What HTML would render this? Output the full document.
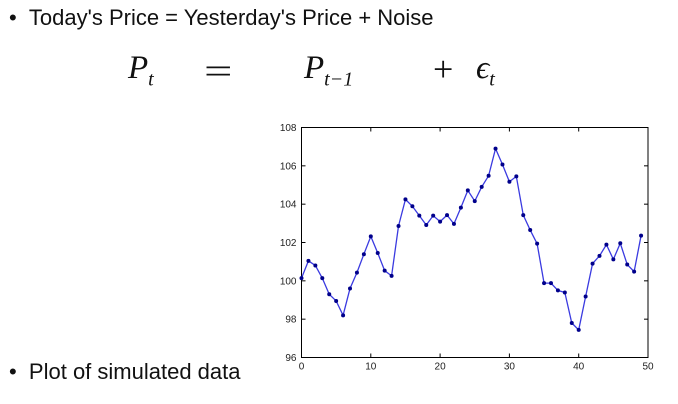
<!DOCTYPE html>
<html><head><meta charset="utf-8"><style>
body{margin:0;width:678px;height:404px;background:#fff;position:relative;overflow:hidden;font-family:"Liberation Sans",sans-serif;color:#111}
.t{position:absolute;white-space:nowrap;font-size:22px}
.eq{position:absolute;font-family:"Liberation Serif",serif;font-size:33px;white-space:nowrap}
.eq i sub{font-size:20px}
</style></head><body>
<div class="t" style="left:9px;top:5px">•&nbsp;&nbsp;Today's Price = Yesterday's Price + Noise</div>
<div class="eq" style="left:128px;top:50px"><i>P<sub>t</sub></i></div>
<div class="eq" style="left:204px;top:50px;font-size:36px;transform:scaleX(1.4);transform-origin:left">=</div>
<div class="eq" style="left:304px;top:50px"><i>P<sub>t−1</sub></i></div>
<div class="eq" style="left:433px;top:48px;font-size:36px">+</div>
<div class="eq" style="left:476px;top:50px"><i>ϵ<sub>t</sub></i></div>
<div class="t" style="left:9px;top:359px">•&nbsp;&nbsp;Plot of simulated data</div>
<svg id="chart" width="678" height="404" style="position:absolute;left:0;top:0"></svg>
<script>
const xTicks=[0,10,20,30,40,50];
const yTicks=[96,98,100,102,104,106,108];
const values=[100.14,101.04,100.8,100.14,99.3,98.95,98.2,99.6,100.43,101.39,102.32,101.45,100.53,100.26,102.86,104.25,103.89,103.4,102.91,103.4,103.09,103.43,102.97,103.82,104.72,104.16,104.9,105.48,106.9,106.07,105.17,105.45,103.43,102.65,101.94,99.88,99.88,99.5,99.39,97.8,97.44,99.18,100.9,101.3,101.89,101.12,101.96,100.85,100.48,102.36];
const L=301.5,R=648,T=127.5,B=357.5;
const sx=v=>L+(v-0)/(50-0)*(R-L);
const sy=v=>B-(v-96)/(108-96)*(B-T);
const svg=document.getElementById('chart');const NS='http://www.w3.org/2000/svg';
function mk(tag,a){const e=document.createElementNS(NS,tag);for(const k in a)e.setAttribute(k,a[k]);svg.appendChild(e);return e;}
const fr=mk('rect',{x:L,y:T,width:R-L,height:B-T,fill:'none',stroke:'#000','stroke-width':1});


xTicks.forEach(t=>{const x=sx(t);
 mk('line',{x1:x,x2:x,y1:B,y2:B-4,stroke:'#000'});mk('line',{x1:x,x2:x,y1:T,y2:T+4,stroke:'#000'});
 const tx=mk('text',{x:x,y:B+12,'font-size':10,'text-anchor':'middle','font-family':'Liberation Sans, sans-serif',fill:'#222'});tx.textContent=t;
 
 });
yTicks.forEach(t=>{const y=sy(t);
 mk('line',{x1:L,x2:L+4,y1:y,y2:y,stroke:'#000'});mk('line',{x1:R,x2:R-4,y1:y,y2:y,stroke:'#000'});
 const tx=mk('text',{x:L-5,y:y+3.5,'font-size':10,'text-anchor':'end','font-family':'Liberation Sans, sans-serif',fill:'#222'});tx.textContent=t;
 
 });
const pts=values.map((v,i)=>sx(i)+','+sy(v)).join(' ');
const ln=mk('polyline',{points:pts,fill:'none',stroke:'#3a3ae0','stroke-width':1.3});


values.forEach((v,i)=>{const c=mk('circle',{cx:sx(i),cy:sy(v),r:2,fill:'#00008b'});
 
 });
</script>
</body></html>
